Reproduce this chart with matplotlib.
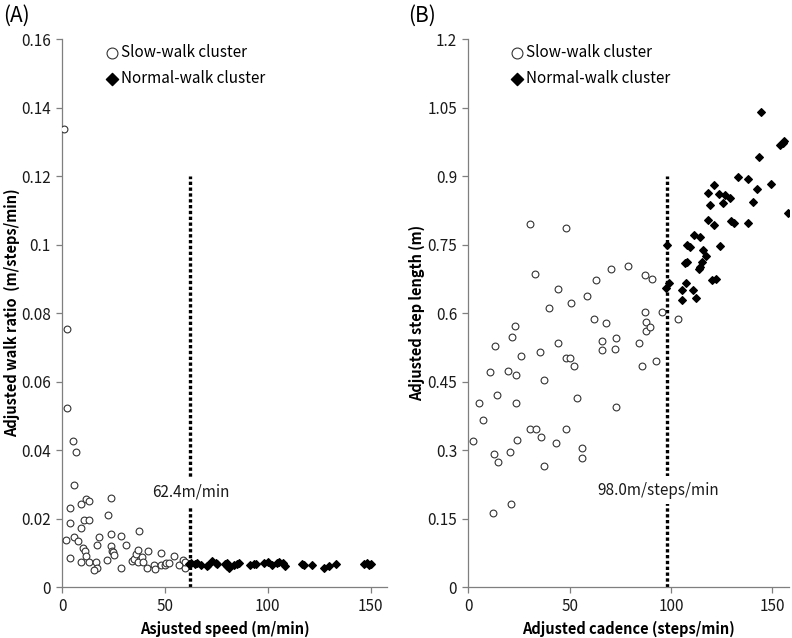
import matplotlib
matplotlib.use("Agg")
import matplotlib.pyplot as plt

plt.rcParams['font.family'] = ['Noto Sans CJK JP', 'DejaVu Sans']

# (A) speed vs walk ratio
slow_speed = [1.0, 2.3, 2.4, 5.2, 7.0, 6.0, 3.7, 4.1, 9.1, 11.5, 13.0, 9.3, 10.9, 13.0,
              23.9, 22.3, 2.1, 6.0, 7.6, 3.7, 10.2, 11.4, 11.9, 9.4, 13.3, 16.9, 18.0,
              16.6, 17.1, 15.6, 21.9, 23.7, 23.9, 24.1, 24.9, 25.1, 28.5, 28.5, 31.2,
              33.8, 35.1, 35.9, 36.7, 37.4, 36.9, 39.0, 39.2, 41.3, 41.9, 44.5, 45.3,
              48.3, 47.9, 49.9, 50.5, 51.8, 54.3, 56.9, 58.7, 60.0, 59.6]
slow_ratio = [0.1337, 0.0753, 0.0524, 0.0425, 0.0395, 0.0298, 0.0231, 0.0187, 0.0243,
              0.0258, 0.0251, 0.0172, 0.0195, 0.0196, 0.0261, 0.0210, 0.0137, 0.0147,
              0.0135, 0.0086, 0.0113, 0.0105, 0.0092, 0.0072, 0.0074, 0.0123, 0.0145,
              0.0072, 0.0057, 0.0049, 0.0078, 0.0121, 0.0155, 0.0105, 0.0101, 0.0093,
              0.0149, 0.0055, 0.0124, 0.0077, 0.0081, 0.0095, 0.0108, 0.0163, 0.0074,
              0.0087, 0.0073, 0.0057, 0.0106, 0.0065, 0.0052, 0.0100, 0.0065, 0.0065,
              0.0070, 0.0070, 0.0091, 0.0063, 0.0078, 0.0057, 0.0072]
normal_speed = [61.6, 62.9, 64.8, 65.5, 67.6, 70.4, 71.2, 73.1, 74.9, 75.3, 79.3, 80.1,
                80.4, 81.0, 83.4, 85.0, 86.0, 91.2, 93.5, 94.3, 98.0, 100.1, 102.1, 104.5,
                105.5, 107.4, 108.2, 116.9, 117.5, 121.7, 127.3, 129.7, 133.4, 146.8,
                148.4, 149.2, 150.0]
normal_ratio = [0.0068, 0.0071, 0.0068, 0.0070, 0.0065, 0.0060, 0.0065, 0.0076, 0.0070,
                0.0067, 0.0067, 0.0060, 0.0070, 0.0055, 0.0065, 0.0068, 0.0070, 0.0063,
                0.0068, 0.0068, 0.0071, 0.0074, 0.0065, 0.0070, 0.0072, 0.0070, 0.0062,
                0.0067, 0.0063, 0.0065, 0.0055, 0.0060, 0.0067, 0.0067, 0.0071, 0.0065,
                0.0067]

# (B) cadence vs step length
slow_cad = [2.5, 5.4, 7.1, 10.9, 12.0, 12.5, 13.3, 14.1, 14.5, 19.4, 20.4, 21.1, 21.4,
            23.0, 23.4, 23.5, 23.8, 25.8, 30.4, 32.7, 33.2, 35.5, 35.7, 37.2, 37.5, 39.8,
            43.1, 44.1, 44.4, 48.0, 48.2, 50.2, 50.7, 52.0, 53.5, 56.3, 56.3, 58.4, 62.2,
            63.0, 66.1, 66.1, 68.1, 70.2, 72.4, 72.9, 72.7, 78.8, 84.2, 85.9, 87.2, 87.0,
            87.5, 87.5, 89.8, 90.8, 92.6, 95.6, 103.5, 30.4, 48.4]
slow_len = [0.320, 0.402, 0.365, 0.470, 0.163, 0.291, 0.527, 0.420, 0.273, 0.472, 0.295,
            0.181, 0.548, 0.572, 0.402, 0.464, 0.323, 0.505, 0.345, 0.685, 0.346, 0.515,
            0.329, 0.265, 0.453, 0.612, 0.315, 0.653, 0.534, 0.501, 0.345, 0.501, 0.623,
            0.485, 0.415, 0.305, 0.282, 0.637, 0.588, 0.673, 0.538, 0.520, 0.579, 0.697,
            0.521, 0.545, 0.395, 0.702, 0.534, 0.485, 0.683, 0.602, 0.580, 0.560, 0.569,
            0.674, 0.496, 0.603, 0.588, 0.795, 0.786]
normal_cad = [144.2, 153.8, 155.1, 155.9, 143.6, 133.2, 137.8, 149.3, 142.4, 121.4, 118.1,
              123.9, 126.8, 129.1, 125.8, 119.4, 140.6, 157.6, 118.1, 121.1, 129.8, 130.9,
              137.8, 111.5, 114.1, 108.1, 109.4, 124.2, 115.6, 97.9, 107.1, 108.0, 117.1,
              115.1, 114.2, 113.7, 120.1, 122.1, 107.4, 99.0, 97.4, 105.4, 110.9, 105.4,
              112.3]
normal_len = [1.041, 0.967, 0.972, 0.976, 0.942, 0.898, 0.893, 0.882, 0.871, 0.881, 0.863,
              0.860, 0.859, 0.852, 0.842, 0.836, 0.844, 0.819, 0.804, 0.792, 0.801, 0.798,
              0.797, 0.771, 0.767, 0.750, 0.744, 0.747, 0.738, 0.750, 0.710, 0.712, 0.725,
              0.711, 0.701, 0.697, 0.672, 0.674, 0.666, 0.666, 0.655, 0.650, 0.650, 0.629,
              0.633]

speed_cut = 62.4
cadence_cut = 98.0

yticks_a = [0, 0.02, 0.04, 0.06, 0.08, 0.1, 0.12, 0.14, 0.16]
yticks_b = [0, 0.15, 0.3, 0.45, 0.6, 0.75, 0.9, 1.05, 1.2]
xticks = [0, 50, 100, 150]

fig = plt.figure(figsize=(7.92, 6.38), dpi=100)
axA = fig.add_axes([0.0783, 0.0799, 0.4104, 0.8589])
axB = fig.add_axes([0.5913, 0.0799, 0.4044, 0.8589])


def style(ax, yticks):
    for s in ['top', 'right']:
        ax.spines[s].set_visible(False)
    for s in ['left', 'bottom']:
        ax.spines[s].set_color('#7f7f7f')
        ax.spines[s].set_linewidth(0.9)
    ax.set_xlim(0, 158)
    ax.set_ylim(yticks[0], yticks[-1])
    ax.set_xticks(xticks)
    ax.set_yticks(yticks)
    ax.set_yticklabels([('%g' % t) for t in yticks])
    ax.tick_params(direction='out', length=4, width=0.9, color='#7f7f7f',
                   labelsize=11, labelcolor='#1a1a1a', pad=4)


def draw(ax, xs, ys, xn, yn):
    ax.scatter(xs, ys, s=24, facecolors='white', edgecolors='#333333',
               linewidths=0.8, label='Slow-walk cluster', zorder=3)
    ax.scatter(xn, yn, marker='D', s=15, color='black',
               label='Normal-walk cluster', zorder=3)
    ax.legend(loc='upper left', bbox_to_anchor=(0.11, 1.008), frameon=False,
              fontsize=11, handlelength=0.6, handletextpad=0.3,
              labelspacing=0.6, markerscale=1.6, borderaxespad=0.2)


dots = (0, (1.0, 0.75))

style(axA, yticks_a)
draw(axA, slow_speed, slow_ratio, normal_speed, normal_ratio)
axA.vlines(speed_cut, 0, 0.12, colors='black', linewidth=2.4,
           linestyles=dots, zorder=2)
axA.text(speed_cut, 0.0278, '%.1fm/min' % speed_cut, ha='center', va='center',
         fontsize=11, color='#1a1a1a', zorder=4,
         bbox=dict(facecolor='white', edgecolor='none', pad=4))
axA.set_xlabel('Asjusted speed (m/min)', fontsize=10.5, fontweight='bold', labelpad=4)
axA.set_ylabel('Adjusted walk ratio  (m/steps/min)', fontsize=10.5,
               fontweight='bold', labelpad=1)

style(axB, yticks_b)
draw(axB, slow_cad, slow_len, normal_cad, normal_len)
axB.vlines(cadence_cut, 0, 0.9, colors='black', linewidth=2.4,
           linestyles=dots, zorder=2)
axB.text(93.6, 0.212, '%.1fm/steps/min' % cadence_cut, ha='center', va='center',
         fontsize=11, color='#1a1a1a', zorder=4,
         bbox=dict(facecolor='white', edgecolor='none', pad=4))
axB.set_xlabel('Adjusted cadence (steps/min)', fontsize=10.5, fontweight='bold', labelpad=4)
axB.set_ylabel('Adjusted step length (m)', fontsize=10.5, fontweight='bold', labelpad=2)

fig.text(0.004, 0.975, '(A)', fontsize=15, va='center', ha='left')
fig.text(0.515, 0.975, '(B)', fontsize=15, va='center', ha='left')

fig.savefig('out.png', dpi=100)
